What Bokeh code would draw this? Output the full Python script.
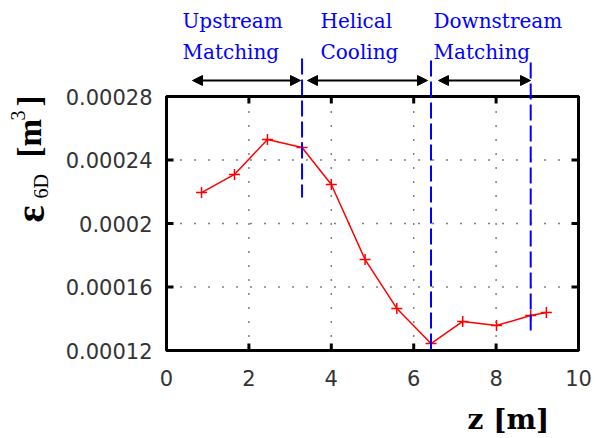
import numpy as np
from bokeh.plotting import figure
from bokeh.models import Range1d, Arrow, NormalHead
from bokeh.embed import file_html
from bokeh.resources import INLINE
from bokeh.core.properties import value

# ---------------- data ----------------
z_m = [0.85, 1.65, 2.45, 3.29, 4.00, 4.82, 5.59, 6.42, 7.19, 8.01, 8.84, 9.22]
eps_6d = [0.0002195, 0.0002309, 0.0002529, 0.0002479, 0.0002246, 0.0001773,
          0.0001465, 0.0001244, 0.0001383, 0.0001357, 0.0001421, 0.0001440]

x_ticks = [0, 2, 4, 6, 8, 10]
x_tick_labels = ["0", "2", "4", "6", "8", "10"]
y_ticks = [0.00012, 0.00016, 0.0002, 0.00024, 0.00028]
y_tick_labels = ["0.00012", "0.00016", "0.0002", "0.00024", "0.00028"]

section_line1 = ["Upstream", "Helical", "Downstream"]
section_line2 = ["Matching", "Cooling", "Matching"]
boundary_index = [3, 7, 10]          # data points where the blue section lines sit

X0, X1 = 0, 10
Y0, Y1 = 0.00012, 0.00028

# ---------------- layout (pixels) ----------------
W, H = 595, 438
PL, PR, PT, PB = 166, 578, 96, 350   # plot box edges in pixels


def fx(px):
    return X0 + (px - PL) / (PR - PL) * (X1 - X0)


def fy(py):
    return Y1 - (py - PT) / (PB - PT) * (Y1 - Y0)


def dx(n):
    return n / (PR - PL) * (X1 - X0)


def dy(n):
    return n / (PB - PT) * (Y1 - Y0)


p = figure(width=W, height=H, output_backend="svg", toolbar_location=None,
           x_range=Range1d(fx(0), fx(W)), y_range=Range1d(fy(H), fy(0)),
           min_border=0, background_fill_color="white", border_fill_color="white")
p.axis.visible = False
p.grid.visible = False
p.outline_line_color = None

# grid (dotted)
gx = [t for t in x_ticks if X0 < t < X1]
gy = [t for t in y_ticks if Y0 < t < Y1]
p.segment(x0=gx, y0=[Y0] * len(gx), x1=gx, y1=[Y1] * len(gx),
          line_color="black", line_width=1.5, line_dash="1 13")
p.segment(x0=[X0] * len(gy), y0=gy, x1=[X1] * len(gy), y1=gy,
          line_color="black", line_width=1.5, line_dash="1 13")

# inward ticks on all four sides
TL = 7
nx, ny = len(x_ticks), len(y_ticks)
p.segment(x0=x_ticks, y0=[Y0] * nx, x1=x_ticks, y1=[Y0 + dy(TL)] * nx, line_color="black", line_width=3)
p.segment(x0=x_ticks, y0=[Y1] * nx, x1=x_ticks, y1=[Y1 - dy(TL)] * nx, line_color="black", line_width=3)
p.segment(x0=[X0] * ny, y0=y_ticks, x1=[X0 + dx(TL)] * ny, y1=y_ticks, line_color="black", line_width=3)
p.segment(x0=[X1] * ny, y0=y_ticks, x1=[X1 - dx(TL)] * ny, y1=y_ticks, line_color="black", line_width=3)

# box
p.quad(left=[X0], right=[X1], bottom=[Y0], top=[Y1], fill_color=None,
       line_color="black", line_width=3)

# tick labels
p.text(x=x_ticks, y=[fy(377)] * nx, text=x_tick_labels,
       text_font=value("DejaVu Sans"), text_font_size="21px", text_color="#333333",
       text_align="center", text_baseline="middle")
p.text(x=[fx(152)] * ny, y=y_ticks, text=y_tick_labels,
       text_font=value("DejaVu Sans"), text_font_size="21px", text_color="#333333",
       text_align="right", text_baseline="middle")

# ---------------- data line ----------------
p.line(z_m, eps_6d, line_color="#ff0000", line_width=1.5)
p.scatter(z_m, eps_6d, marker="cross", size=11, line_color="#ff0000", line_width=1.5)

# ---------------- section boundaries ----------------
bx = [z_m[i] for i in boundary_index]
line_tops = [fy(58), fy(60), fy(62)]
line_bottoms = [fy(197), Y0, fy(332)]
p.segment(x0=bx, y0=line_tops, x1=bx, y1=line_bottoms, line_color="#0000ff",
          line_width=2, line_dash="16 5")

# double arrows
arrow_y = fy(80)
arrow_x = [(fx(192), fx(300)), (fx(307), fx(427)), (fx(438), fx(530))]
for xs, xe in arrow_x:
    p.add_layout(Arrow(x_start=xs, y_start=arrow_y, x_end=xe, y_end=arrow_y,
                       line_color="black", line_width=2,
                       start=NormalHead(size=10, fill_color="black", line_color="black"),
                       end=NormalHead(size=10, fill_color="black", line_color="black")))

# section titles
title_x = [182, 320, 433]
p.text(x=[fx(t) for t in title_x], y=[fy(20)] * 3, text=section_line1,
       text_font=value("DejaVu Serif"), text_font_size="20px", text_color="#0000ff",
       text_align="left", text_baseline="middle")
p.text(x=[fx(t) for t in title_x], y=[fy(51)] * 3, text=section_line2,
       text_font=value("DejaVu Serif"), text_font_size="20px", text_color="#0000ff",
       text_align="left", text_baseline="middle")

# x axis label
p.text(x=[fx(467)], y=[fy(419)], text=["z [m]"], text_font=value("DejaVu Serif"),
       text_font_style="bold", text_font_size="28px", text_color="black",
       text_align="left", text_baseline="middle")

# y axis label: eps_6D [m^3], rotated
ylab_text = ["ε", "6D", "[m", "3", "]"]
ylab_mx = [30, 40, 29, 17, 29]
ylab_sy = [222, 198, 157, 120, 106]
ylab_size = ["40px", "20px", "33px", "20px", "33px"]
ylab_style = ["bold", "normal", "bold", "normal", "bold"]
for t, b, s, fs, st in zip(ylab_text, ylab_mx, ylab_sy, ylab_size, ylab_style):
    p.text(x=[fx(b)], y=[fy(s)], text=[t], text_font=value("Liberation Serif"),
           text_font_style=st, text_font_size=fs, text_color="black",
           angle=np.pi / 2, text_align="left", text_baseline="middle")

open("out.html", "w").write(file_html(p, INLINE))
